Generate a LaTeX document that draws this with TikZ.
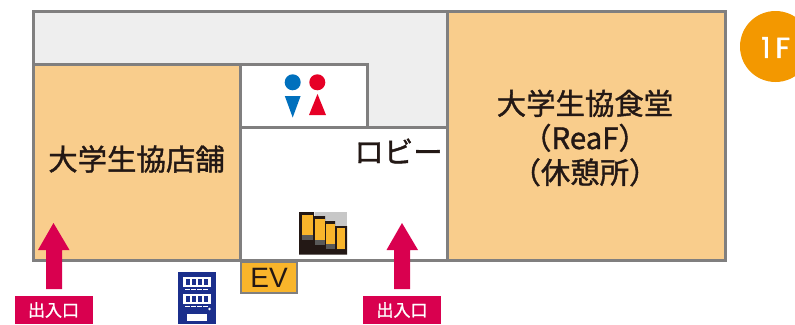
\documentclass[tikz,border=0pt]{standalone}
\usepackage{fontspec}
\setmainfont{Noto Sans CJK JP}
\newfontfamily\medfont[FakeBold=1.3]{Noto Sans CJK JP}
\newfontfamily\latinfont{Liberation Sans}
\newfontfamily\badgefont[FakeBold=1.5]{Poppins}
\definecolor{shop}{HTML}{F9CD8C}
\definecolor{wall}{HTML}{807F7F}
\definecolor{corr}{HTML}{EEEEEE}
\definecolor{entry}{HTML}{D9004F}
\definecolor{evcol}{HTML}{F9B52B}
\definecolor{badge}{HTML}{F39800}
\definecolor{ink}{HTML}{231815}
\definecolor{navy}{HTML}{1B2F8C}
\definecolor{mblue}{HTML}{0070BD}
\definecolor{fred}{HTML}{E60026}
\tikzset{
  room/.style={draw=wall,line width=3pt},
  lbl/.style={text=ink,font=\medfont\fontsize{29.4}{34.5}\selectfont,align=center,inner sep=0pt},
  exitbox/.style={fill=entry,text=white,minimum width=78pt,minimum height=28pt,inner sep=0pt,font=\medfont\fontsize{17}{20}\selectfont},
  exitarrow/.style={fill=entry,draw=none}
}
\begin{document}
\begin{tikzpicture}[x=1pt,y=-1pt]
\useasboundingbox (0,0) rectangle (795,324);
% rooms
\fill[corr] (33,11) rectangle (447,128);
\fill[white] (240,127) rectangle (447,261);
\fill[white] (240,64) rectangle (367,127);
\fill[shop] (33,64) rectangle (240,261);
\fill[shop] (447,11) rectangle (725,261);
\draw[room] (33.5,11.5) rectangle (725,260.5);
\draw[room] (33.5,64.5) -- (367,64.5) -- (367,127.5);
\draw[room] (240,64.5) -- (240,260.5);
\draw[room] (240,127.5) -- (447,127.5);
\draw[room] (447,11.5) -- (447,260.5);
% labels
\node[lbl] (shopl) at (136.5,159) {大学生協店舗};
\node[lbl] (reaf) at (585,138) {大学生協食堂\\（ReaF）\\（休憩所）};
\node[lbl] (lobby) at (398.5,151) {ロビー};
% WC
\fill[mblue] (292.7,82.3) circle (8);
\fill[mblue] (284.8,96) -- (300.6,96) -- (292.7,117.5) -- cycle;
\fill[fred] (317.3,82.3) circle (8);
\fill[fred] (309,115) -- (326,115) -- (317.5,94) -- cycle;
% escalator
\fill[black!22] (315,212) rectangle (347,230);
\fill[ink] (299,212) -- (314,212) -- (314,216) -- (325,216) -- (325,221) -- (335,221) -- (335,226) -- (347,226) -- (347,254.5) -- (299,254.5) -- cycle;
\foreach \xa/\xb/\ya/\yb/\yc in {301.5/313/214.5/235/240, 314.7/324.5/218.5/240/245, 325.7/335/223.5/244/248.5, 336.7/345/228/249/249}{
  \fill[black!65] (\xa,\yb) rectangle (\xb,\yc);
  \fill[evcol] (\xa,\ya) rectangle (\xb,\yb);
}
% EV
\node[draw=wall,line width=2.5pt,fill=evcol,text=ink,minimum width=56pt,minimum height=31pt,inner sep=0pt,font=\latinfont\fontsize{28}{30}\selectfont] (ev) at (269,277.5) {EV};
% vending machine
\fill[navy] (177.5,272) rectangle (215.7,324);
\foreach \yy in {277,294}{
  \fill[white] (182.5,\yy) rectangle (210.5,\yy+10);
  \foreach \xx in {186,192,198,204}{\fill[navy] (\xx,\yy+2) rectangle ++(3.6,6);}
  \foreach \xx in {185,191,197,203}{\fill[white] (\xx,\yy+12) rectangle ++(4.5,1.2);}
}
\fill[white] (186.5,314) rectangle (206.5,321);
\fill[white] (209.5,309) circle (1.3);
% entrances
\node[exitbox] (e1) at (53.5,310) {出入口};
\node[exitbox] (e2) at (402,310) {出入口};
\fill[exitarrow] (53.5,223) -- (69.5,250) -- (62,250) -- (62,289) -- (46,289) -- (46,250) -- (38,250) -- cycle;
\fill[exitarrow] (402,223) -- (418,250) -- (410,250) -- (410,289) -- (394,289) -- (394,250) -- (386.5,250) -- cycle;
% floor badge
\fill[badge] (775.5,46.5) circle (35.5);
\node[text=white,inner sep=0pt,anchor=west,font=\badgefont\fontsize{29}{30}\selectfont] (floor) at (761,47.5) {1\kern5pt F};
\end{tikzpicture}
\end{document}
